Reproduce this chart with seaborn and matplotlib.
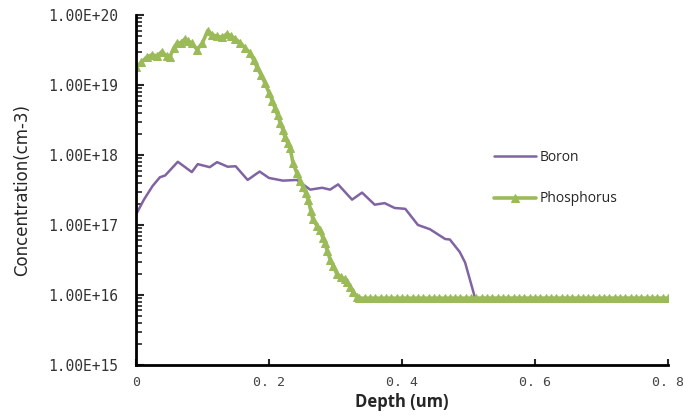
import numpy as np
import pandas as pd
import matplotlib
matplotlib.use("Agg")
import matplotlib.pyplot as plt
import matplotlib.ticker as mticker
import seaborn as sns

boron_depth = [0.0, 0.012, 0.025, 0.036, 0.044, 0.063, 0.084, 0.093, 0.111, 0.122, 0.138,
               0.150, 0.168, 0.186, 0.200, 0.221, 0.242, 0.262, 0.280, 0.292, 0.304,
               0.325, 0.340, 0.359, 0.374, 0.389, 0.405, 0.424, 0.442, 0.465, 0.472,
               0.487, 0.495, 0.510, 0.560, 0.620, 0.680, 0.740, 0.800]
boron_conc = [1.4e17, 2.3e17, 3.6e17, 4.8e17, 5.1e17, 8.0e17, 5.7e17, 7.4e17, 6.7e17, 7.9e17,
              6.8e17, 6.9e17, 4.4e17, 5.8e17, 4.7e17, 4.3e17, 4.4e17, 3.2e17, 3.4e17, 3.2e17,
              3.8e17, 2.3e17, 2.9e17, 1.95e17, 2.05e17, 1.75e17, 1.7e17, 1.0e17, 8.7e16,
              6.3e16, 6.2e16, 4.1e16, 2.9e16, 9.0e15, 9.0e15, 9.0e15, 9.0e15, 9.0e15, 9.0e15]

phos_depth = [0.0, 0.008, 0.016, 0.024, 0.032, 0.039, 0.046, 0.051, 0.057, 0.062, 0.068,
              0.074, 0.079, 0.084, 0.092, 0.100, 0.108, 0.115, 0.122, 0.130, 0.137,
              0.143, 0.149, 0.157, 0.164, 0.171, 0.177, 0.182, 0.188, 0.194, 0.200,
              0.205, 0.209, 0.213, 0.217, 0.221, 0.224, 0.228, 0.232, 0.236, 0.242,
              0.247, 0.251, 0.255, 0.259, 0.263, 0.266, 0.272, 0.277, 0.281, 0.284,
              0.288, 0.292, 0.297, 0.302, 0.308, 0.314, 0.318, 0.322, 0.327, 0.332,
              0.336, 0.344, 0.352, 0.360, 0.368, 0.376, 0.384, 0.392, 0.400, 0.408,
              0.416, 0.424, 0.432, 0.440, 0.448, 0.456, 0.464, 0.472, 0.480, 0.488,
              0.496, 0.504, 0.512, 0.520, 0.528, 0.536, 0.544, 0.552, 0.560, 0.568,
              0.576, 0.584, 0.592, 0.600, 0.608, 0.616, 0.624, 0.632, 0.640, 0.648,
              0.656, 0.664, 0.672, 0.680, 0.688, 0.696, 0.704, 0.712, 0.720, 0.728,
              0.736, 0.744, 0.752, 0.760, 0.768, 0.776, 0.784, 0.792, 0.800]
phos_conc = [1.8e19, 2.1e19, 2.5e19, 2.7e19, 2.6e19, 3.0e19, 2.6e19, 2.5e19, 3.4e19, 4.0e19, 4.0e19,
             4.6e19, 4.2e19, 4.0e19, 3.2e19, 4.0e19, 6.0e19, 5.2e19, 5.0e19, 4.8e19, 5.4e19,
             5.0e19, 4.6e19, 4.0e19, 3.4e19, 2.9e19, 2.3e19, 1.8e19, 1.4e19, 1.07e19, 7.8e18,
             6.0e18, 4.7e18, 3.7e18, 2.9e18, 2.3e18, 1.8e18, 1.5e18, 1.25e18, 7.8e17, 5.5e17,
             4.3e17, 3.5e17, 2.9e17, 2.3e17, 1.6e17, 1.2e17, 9.8e16, 8.5e16, 6.5e16, 5.5e16,
             4.2e16, 3.2e16, 2.6e16, 2.0e16, 1.8e16, 1.7e16, 1.55e16, 1.3e16, 1.1e16, 9.3e15,
             9.0e15, 9.0e15, 9.0e15, 9.0e15, 9.0e15, 9.0e15, 9.0e15, 9.0e15, 9.0e15, 9.0e15,
             9.0e15, 9.0e15, 9.0e15, 9.0e15, 9.0e15, 9.0e15, 9.0e15, 9.0e15, 9.0e15, 9.0e15,
             9.0e15, 9.0e15, 9.0e15, 9.0e15, 9.0e15, 9.0e15, 9.0e15, 9.0e15, 9.0e15, 9.0e15,
             9.0e15, 9.0e15, 9.0e15, 9.0e15, 9.0e15, 9.0e15, 9.0e15, 9.0e15, 9.0e15, 9.0e15,
             9.0e15, 9.0e15, 9.0e15, 9.0e15, 9.0e15, 9.0e15, 9.0e15, 9.0e15, 9.0e15, 9.0e15,
             9.0e15, 9.0e15, 9.0e15, 9.0e15, 9.0e15, 9.0e15, 9.0e15, 9.0e15, 9.0e15]

x_ticks = [0.0, 0.2, 0.4, 0.6, 0.8]
x_tick_labels = ["0", "0. 2", "0. 4", "0. 6", "0. 8"]
y_ticks = [1e15, 1e16, 1e17, 1e18, 1e19, 1e20]
y_tick_labels = ["1.00E+15", "1.00E+16", "1.00E+17", "1.00E+18", "1.00E+19", "1.00E+20"]

sns.set_style("white")
plt.rcParams['font.family'] = ['Open Sans', 'DejaVu Sans']

fig = plt.figure(figsize=(6.83, 4.18), dpi=100)
ax = fig.add_axes([0.199, 0.127, 0.779, 0.837])

df_b = pd.DataFrame({"Depth": boron_depth, "Conc": boron_conc})
df_p = pd.DataFrame({"Depth": phos_depth, "Conc": phos_conc})

sns.lineplot(data=df_b, x="Depth", y="Conc", ax=ax, color="#8064A2", linewidth=1.8,
             sort=False, label="Boron")
sns.lineplot(data=df_p, x="Depth", y="Conc", ax=ax, color="#9BBB59", linewidth=2.6,
             marker="^", markersize=5.5, markeredgecolor="#9BBB59", sort=False, label="Phosphorus")

ax.set_yscale("log")
ax.set_ylim(1e15, 1e20)
ax.set_xlim(0, 0.8)
ax.set_xticks(x_ticks)
ax.set_xticklabels(x_tick_labels, family="DejaVu Sans Mono", fontsize=9.5, color="#444444")
ax.set_yticks(y_ticks)
ax.set_yticklabels(y_tick_labels, family="DejaVu Sans Mono", fontsize=10.5, color="#333333")
ax.yaxis.set_minor_locator(mticker.LogLocator(base=10, subs=np.arange(2, 10)))
ax.yaxis.set_minor_formatter(mticker.NullFormatter())

ax.tick_params(axis="y", which="major", direction="in", length=6, width=1.5, left=True, pad=13)
ax.tick_params(axis="y", which="minor", direction="in", length=4, width=1.2, left=True)
ax.tick_params(axis="x", which="major", direction="in", length=4, width=1.5, bottom=True, pad=8)

for s in ["top", "right"]:
    ax.spines[s].set_visible(False)
for s in ["left", "bottom"]:
    ax.spines[s].set_color("black")
    ax.spines[s].set_linewidth(2)

ax.set_xlabel("Depth (um)", fontsize=12, fontweight="bold", labelpad=3)
ax.set_ylabel("Concentration(cm-3)", fontsize=12, family=["Liberation Sans Narrow", "DejaVu Sans"],
              labelpad=12)

leg = ax.legend(loc="upper left", bbox_to_anchor=(0.65, 0.65), frameon=False, fontsize=10,
                handlelength=3.0, labelspacing=1.9, handletextpad=0.3)

fig.savefig("out.png", dpi=100)
